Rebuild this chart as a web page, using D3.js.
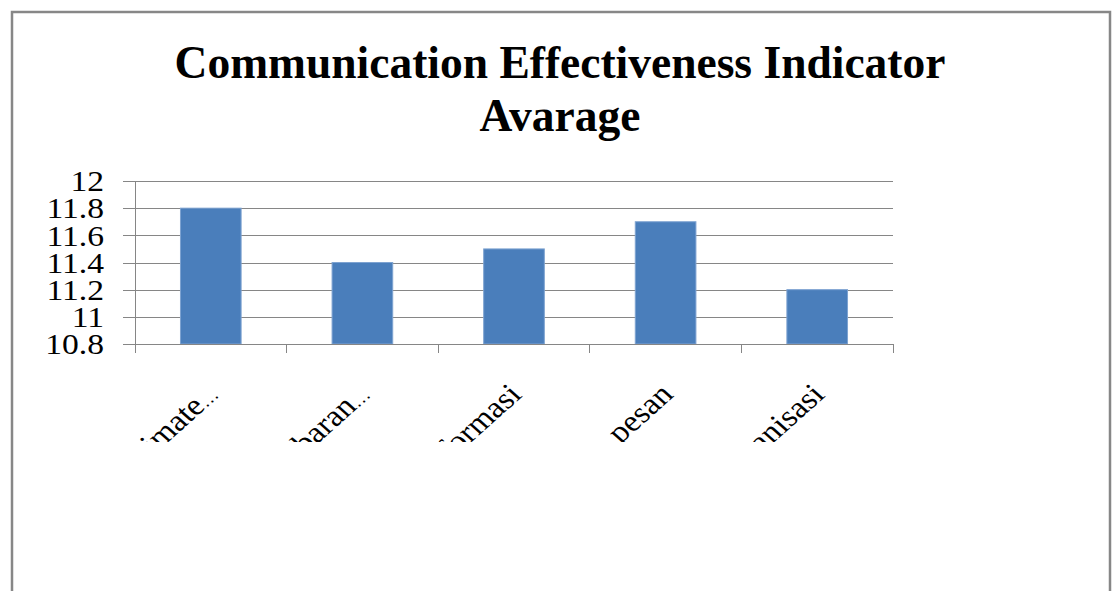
<!DOCTYPE html>
<html>
<head>
<meta charset="utf-8">
<script src="https://d3js.org/d3.v7.min.js"></script>
<style>
body {
  margin: 0;
  background: #fff;
}
.serif {
  font-family: "Liberation Serif", "Times New Roman", Times, serif;
}
</style>
</head>
<body>
<div id="chart"></div>
<script>

// data
var categories = ["Climate\u2026", "Penyebaran\u2026", "Informasi", "pesan", "Organisasi"];
var values = [11.8, 11.4, 11.5, 11.7, 11.2];
var yTicks = [10.8, 11, 11.2, 11.4, 11.6, 11.8, 12];
var yTickLabels = ["10.8", "11", "11.2", "11.4", "11.6", "11.8", "12"];
var titleLines = ["Communication Effectiveness Indicator", "Avarage"];

var W = 1114, H = 591;
var plot = {left: 135, right: 893, top: 181, bottom: 344};
var stretch = 1.12; // the original picture is a bit wider than tall

var svg = d3.select("#chart")
  .append("svg")
    .attr("width", W)
    .attr("height", H);

// outer chart frame (bottom edge is off the picture)
svg.append("rect")
  .attr("x", 12)
  .attr("y", 12)
  .attr("width", 1098)
  .attr("height", 620)
  .attr("fill", "#fff")
  .attr("stroke", "#878787")
  .attr("stroke-width", 2.5);

// title
svg.append("g")
  .selectAll("text")
  .data(titleLines)
  .enter()
  .append("text")
    .attr("class", "serif")
    .attr("x", 560)
    .attr("y", function(d, i) { return 78 + i * 53; })
    .attr("text-anchor", "middle")
    .style("font-size", "45.5px")
    .style("font-weight", "bold")
    .text(function(d) { return d; });

var x = d3.scaleBand()
  .domain(categories)
  .range([plot.left, plot.right])
  .paddingInner(0.6)
  .paddingOuter(0.3);

var y = d3.scaleLinear()
  .domain([10.8, 12])
  .range([plot.bottom, plot.top]);

// horizontal gridlines + left tick marks
svg.append("g")
  .attr("transform", "translate(" + plot.left + ",0)")
  .call(d3.axisLeft(y)
    .tickValues(yTicks)
    .tickSize(-(plot.right - plot.left))
    .tickFormat(""))
  .call(function(g) {
    g.select(".domain").remove();
    g.selectAll(".tick line")
      .attr("x1", -12)
      .attr("stroke", "#868686")
      .attr("shape-rendering", "crispEdges");
  });

// y axis line
svg.append("line")
  .attr("x1", plot.left).attr("x2", plot.left)
  .attr("y1", plot.top).attr("y2", plot.bottom)
  .attr("stroke", "#868686")
  .attr("shape-rendering", "crispEdges");

// y tick labels
svg.append("g")
  .selectAll("text")
  .data(yTicks)
  .enter()
  .append("text")
    .attr("class", "serif")
    .attr("transform", function(d) { return "translate(104," + y(d) + ") scale(" + stretch + ",1)"; })
    .attr("dy", "0.34em")
    .attr("text-anchor", "end")
    .style("font-size", "30px")
    .text(function(d, i) { return yTickLabels[i]; });

// bars
svg.append("g")
  .selectAll("rect")
  .data(values)
  .enter()
  .append("rect")
    .attr("x", function(d, i) { return x(categories[i]); })
    .attr("y", function(d) { return y(d); })
    .attr("width", x.bandwidth())
    .attr("height", function(d) { return y(10.8) - y(d); })
    .attr("fill", "#4a7ebb")
    .attr("stroke", "#7ea3d1")
    .attr("stroke-width", 1);

// x axis line and category boundary ticks
var step = x.step();
var bounds = categories.map(function(c) { return x(c) - step * x.paddingInner() / 2; });
bounds.push(plot.right);

svg.append("line")
  .attr("x1", plot.left).attr("x2", plot.right)
  .attr("y1", plot.bottom).attr("y2", plot.bottom)
  .attr("stroke", "#868686")
  .attr("shape-rendering", "crispEdges");

svg.append("g")
  .selectAll("line")
  .data(bounds)
  .enter()
  .append("line")
    .attr("x1", function(d) { return d; })
    .attr("x2", function(d) { return d; })
    .attr("y1", plot.bottom)
    .attr("y2", plot.bottom + 9)
    .attr("stroke", "#868686")
    .attr("shape-rendering", "crispEdges");

// rotated category labels, cut off at the bottom like the original
svg.append("clipPath")
  .attr("id", "labelClip")
  .append("rect")
    .attr("x", 0).attr("y", 352)
    .attr("width", W).attr("height", 442 - 352);

svg.append("g")
  .attr("clip-path", "url(#labelClip)")
  .selectAll("text")
  .data(categories)
  .enter()
  .append("text")
    .attr("class", "serif")
    .attr("text-anchor", "end")
    .attr("transform", function(d) {
      return "translate(" + (x(d) + x.bandwidth() / 2 + 9) + ",396) scale(" + stretch + ",1) rotate(-45)";
    })
    .style("font-size", "30px")
    .each(function(d) {
      // the truncation dots are drawn small and tight in the original
      var t = d3.select(this);
      var main = d.replace(/\u2026$/, "");
      t.append("tspan").text(main);
      if (main !== d) t.append("tspan").style("font-size", "17px").text("\u2026");
    });

</script>
</body>
</html>
